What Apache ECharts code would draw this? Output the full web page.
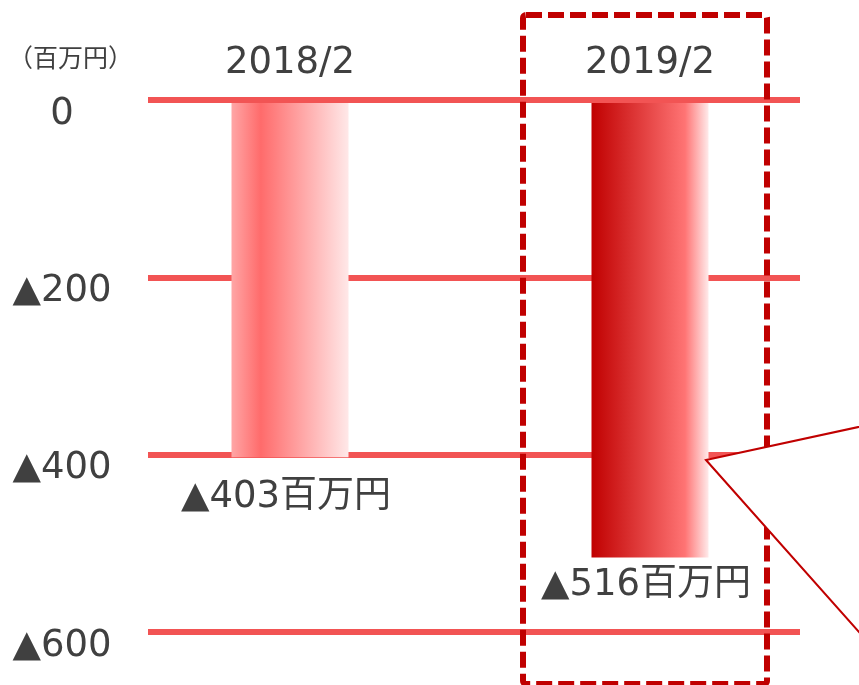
<!DOCTYPE html>
<html>
<head>
<meta charset="utf-8">
<script src="https://cdn.jsdelivr.net/npm/echarts@6/dist/echarts.min.js"></script>
<style>
  html, body { margin: 0; padding: 0; background: #fff; }
  #chart { width: 859px; height: 685px; }
</style>
</head>
<body>
<div id="chart"></div>
<script>
// Operating result by fiscal period (million yen, negative = loss)
const periods = ['2018/2', '2019/2'];
const values = [-403, -516];
const axisTicks = [0, -200, -400, -600];
const unitLabel = '（百万円）';

const FONT = "'DejaVu Sans', 'Noto Sans CJK JP', sans-serif";
const TEXT = '#404040';
const GRID_RED = '#f25454';

const fmtNeg = v => (v < 0 ? '▲' + (-v) : String(v));

const gradients = [
  new echarts.graphic.LinearGradient(0, 0, 1, 0, [
    { offset: 0, color: '#ffa6a6' },
    { offset: 0.25, color: '#ff6b6b' },
    { offset: 1, color: '#ffe8e8' }
  ]),
  new echarts.graphic.LinearGradient(0, 0, 1, 0, [
    { offset: 0, color: '#c00000' },
    { offset: 0.8, color: '#ff7474' },
    { offset: 1, color: '#ffeaea' }
  ])
];
const labelGaps = [22, 9];

const chart = echarts.init(document.getElementById('chart'), null, { renderer: 'canvas' });

chart.setOption({
  animation: false,
  backgroundColor: '#fff',
  title: {
    text: unitLabel,
    left: 3, top: 43,
    textStyle: { fontFamily: FONT, fontSize: 25, fontWeight: 'normal', color: TEXT }
  },
  grid: [
    { left: 148, right: 59, top: 100, bottom: 53 },
    { left: 110, right: 29, top: 100, bottom: 53 }
  ],
  xAxis: [
    {
      // baseline at zero, drawn above the bars
      type: 'value', gridIndex: 0, position: 'top', min: 0, max: 1, z: 3,
      axisLine: { show: true, onZero: false, lineStyle: { color: GRID_RED, width: 6, cap: 'butt' } },
      axisTick: { show: false }, axisLabel: { show: false }, splitLine: { show: false }
    },
    {
      type: 'category', gridIndex: 1, position: 'top', data: periods,
      axisLine: { show: false }, axisTick: { show: false },
      axisLabel: { margin: 18, fontFamily: FONT, fontSize: 37, color: TEXT }
    }
  ],
  yAxis: [
    {
      type: 'value', gridIndex: 0,
      min: axisTicks[axisTicks.length - 1], max: axisTicks[0], interval: 200,
      axisLine: { show: false }, axisTick: { show: false },
      splitLine: { show: true, lineStyle: { color: GRID_RED, width: 6 } },
      axisLabel: {
        formatter: fmtNeg, align: 'center', margin: 86,
        verticalAlign: 'top', lineHeight: 28,
        fontFamily: FONT, fontSize: 37, color: TEXT
      }
    },
    {
      type: 'value', gridIndex: 1,
      min: axisTicks[axisTicks.length - 1], max: axisTicks[0],
      show: false, splitLine: { show: false }
    }
  ],
  series: [{
    type: 'bar',
    xAxisIndex: 1, yAxisIndex: 1,
    barWidth: 117,
    data: values.map((v, i) => ({
      value: v,
      itemStyle: { color: gradients[i] },
      label: {
        show: true, position: 'bottom', distance: labelGaps[i],
        offset: [-4, 0],
        formatter: p => fmtNeg(p.value) + '百万円',
        fontFamily: FONT, fontSize: 37, color: TEXT
      }
    }))
  }],
  graphic: [
    {
      type: 'rect', z: 100,
      shape: { x: 523, y: 15, width: 244, height: 669, r: 3 },
      style: { fill: 'none', stroke: '#c00000', lineWidth: 6, lineDash: [16, 6] }
    },
    {
      type: 'polygon', z: 110,
      shape: { points: [[706, 460], [900, 418], [900, 678]] },
      style: { fill: '#ffffff', stroke: '#c00000', lineWidth: 2 }
    }
  ]
});
</script>
</body>
</html>
